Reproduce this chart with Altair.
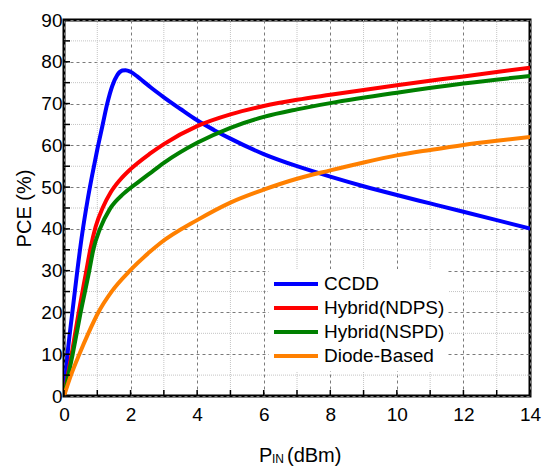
import altair as alt
import pandas as pd

series_names = ["CCDD", "Hybrid(NDPS)", "Hybrid(NSPD)", "Diode-Based"]
series_colors = ["#0000ff", "#ff0000", "#008000", "#ff8000"]

ccdd_x = [0, 0.1, 0.25, 0.4, 0.55, 0.7, 0.85, 1.0, 1.15, 1.3, 1.45, 1.6, 1.75, 1.85, 2.0, 2.2, 2.4, 2.6, 3.0, 3.5, 4, 4.5, 5, 6, 7, 8, 9, 10, 11, 12, 13, 14]
ccdd_y = [0, 9.5, 20, 30, 39, 46.5, 53, 59, 64.5, 70, 74.2, 76.8, 77.9, 78, 77.6, 76.5, 75.2, 73.9, 71.5, 68.7, 66, 63.7, 61.6, 57.9, 55, 52.5, 50.2, 48.1, 46.1, 44.1, 42.1, 40.1]

ndps_x = [0, 0.23, 0.43, 0.66, 0.8, 0.95, 1.16, 1.4, 1.68, 2.0, 2.58, 3.0, 4, 5, 6, 7, 8, 10, 12, 14]
ndps_y = [0, 10, 19.5, 29.5, 35.5, 40.5, 45, 48.7, 51.7, 54.3, 58, 60.3, 64.6, 67.4, 69.4, 70.9, 72.1, 74.4, 76.5, 78.6]

nspd_x = [0, 0.26, 0.5, 0.76, 0.88, 1.08, 1.38, 1.8, 2.28, 2.58, 3, 4, 5, 6, 7, 8, 10, 12, 14]
nspd_y = [0, 10, 20, 30, 35, 40, 44.8, 48.5, 51.5, 53.3, 55.8, 60.6, 64.2, 66.8, 68.6, 70.1, 72.6, 74.8, 76.6]

diode_x = [0, 0.21, 0.46, 0.73, 1.03, 1.43, 1.98, 2.58, 2.88, 4, 5, 6, 7, 8, 9, 10, 11, 12, 13, 14]
diode_y = [0, 5, 10, 15, 20, 25, 30, 34.5, 36.5, 42.1, 46.3, 49.4, 52.0, 54.0, 55.9, 57.6, 58.9, 60.1, 61.1, 62]

x_major = [0, 2, 4, 6, 8, 10, 12, 14]
x_minor = [1, 3, 5, 7, 9, 11, 13]
x_ticks = list(range(0, 15))
y_major = [0, 10, 20, 30, 40, 50, 60, 70, 80, 90]
y_minor = [5, 15, 25, 35, 45, 55, 65, 75, 85]
y_ticks = list(range(0, 91, 5))

rows = []
for name, xs, ys in zip(series_names,
                        [ccdd_x, ndps_x, nspd_x, diode_x],
                        [ccdd_y, ndps_y, nspd_y, diode_y]):
    for i, (a, b) in enumerate(zip(xs, ys)):
        rows.append({"series": name, "x": a, "y": b, "order": i})
df = pd.DataFrame(rows)

W, H = 466, 376
FONT = "Liberation Sans, Arial"

xscale = alt.Scale(domain=[0, 14], nice=False, zero=False)
yscale = alt.Scale(domain=[0, 90], nice=False, zero=False)

lines = alt.Chart(df).mark_line(strokeWidth=4, interpolate="monotone", clip=True).encode(
    x=alt.X("x:Q", scale=xscale,
            axis=alt.Axis(values=x_major, title=None, grid=True, ticks=False, domain=False,
                          labelFontSize=19, labelFont=FONT, labelColor="black",
                          labelPadding=9, gridColor="#7a7a7a", gridDash=[3, 3],
                          labelFlush=False)),
    y=alt.Y("y:Q", scale=yscale,
            axis=alt.Axis(values=y_major, title="PCE (%)", grid=True, ticks=False, domain=False,
                          labelFontSize=19, labelFont=FONT, labelColor="black",
                          labelPadding=2, gridColor="#7a7a7a", gridDash=[3, 3],
                          titleFont=FONT, titleFontSize=20, titleFontWeight="normal",
                          titleColor="black", titlePadding=6, labelFlush=False)),
    color=alt.Color("series:N",
                    scale=alt.Scale(domain=series_names, range=series_colors),
                    legend=alt.Legend(title=None, orient="none", legendX=205, legendY=249,
                                      fillColor="white", padding=3, symbolType="stroke",
                                      symbolSize=1936, symbolStrokeWidth=4, clipHeight=24,
                                      rowPadding=0, labelFont=FONT, labelFontSize=19,
                                      labelColor="black", labelOffset=4)),
    order="order:Q",
)

minor_x = alt.Chart(pd.DataFrame({"v": x_minor})).mark_rule(
    color="#c4c4c4", strokeWidth=1, strokeDash=[1, 1]).encode(x=alt.X("v:Q", scale=xscale))
minor_y = alt.Chart(pd.DataFrame({"v": y_minor})).mark_rule(
    color="#c4c4c4", strokeWidth=1, strokeDash=[1, 1]).encode(y=alt.Y("v:Q", scale=yscale))

tick_x = alt.Chart(pd.DataFrame({"v": x_ticks})).mark_rule(color="black", strokeWidth=1.5).encode(
    x=alt.X("v:Q", scale=xscale), y=alt.value(H), y2=alt.value(H - 6))
tick_y = alt.Chart(pd.DataFrame({"v": y_ticks})).mark_rule(color="black", strokeWidth=1.5).encode(
    y=alt.Y("v:Q", scale=yscale), x=alt.value(0), x2=alt.value(6))

t_p = alt.Chart(pd.DataFrame({"t": ["P"]})).mark_text(
    font=FONT, fontSize=20, align="left", baseline="alphabetic", color="black").encode(
    text="t:N", x=alt.value(195), y=alt.value(442))
t_in = alt.Chart(pd.DataFrame({"t": ["IN"]})).mark_text(
    font=FONT, fontSize=12, align="left", baseline="alphabetic", color="black").encode(
    text="t:N", x=alt.value(208), y=alt.value(443))
t_dbm = alt.Chart(pd.DataFrame({"t": ["(dBm)"]})).mark_text(
    font=FONT, fontSize=20, align="left", baseline="alphabetic", color="black").encode(
    text="t:N", x=alt.value(223), y=alt.value(442))

chart = alt.layer(minor_x, minor_y, lines, tick_x, tick_y, t_p, t_in, t_dbm).properties(
    width=W, height=H,
    autosize=alt.AutoSizeParams(type="none"),
    padding={"left": 64, "top": 20, "right": 14, "bottom": 70},
    background="white",
).configure_view(stroke="black", strokeWidth=3)

chart.save("out.html", embed_options={"renderer": "svg", "actions": False})
